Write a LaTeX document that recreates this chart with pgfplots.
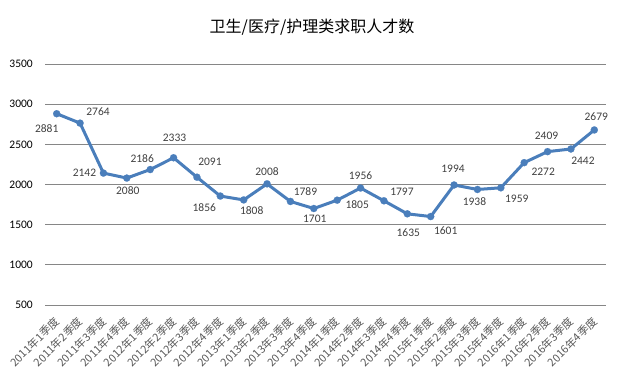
\documentclass[border=0pt]{standalone}
\usepackage{pgfplots}
\pgfplotsset{compat=1.18}
\usepackage{pgfplotstable}
\usepackage{fontspec}
\setmainfont{Carlito}
\newfontfamily\cjk{Noto Sans CJK SC}
\definecolor{lineblue}{HTML}{4A7EBB}
\definecolor{gridgray}{HTML}{868686}
\definecolor{labgray}{HTML}{404040}
\definecolor{xgray}{HTML}{595959}

\pgfplotstableread{
x y dx dy
0 2881 -10 -15
1 2764 18 11
2 2142 -19 0
3 2080 1 -13
4 2186 -8 11
5 2333 1 20
6 2091 13 15
7 1856 -16 -12
8 1808 8 -11
9 2008 0 12
10 1789 15 10
11 1701 1 -10
12 1805 20 -4
13 1956 0 12
14 1797 18 9
15 1635 1 -19
16 1601 15 -14
17 1994 -1 16
18 1938 -3 -12
19 1959 16 -11
20 2272 19 -9
21 2409 -1 16
22 2442 12 -12
23 2679 2 13
}\datatable

\begin{document}
\begin{tikzpicture}[x=1pt,y=1pt]
\useasboundingbox (0,0) rectangle (618,379);
\node[font=\cjk\fontsize{16}{18}\selectfont, text=black] at (312,352) {卫生/医疗/护理类求职人才数};
\begin{axis}[
  at={(45pt,74pt)}, anchor=south west,
  scale only axis, width=561pt, height=241pt,
  xmin=-0.5, xmax=23.5, ymin=500, ymax=3500,
  ytick={500,1000,...,3500},
  xtick={0,...,23},
  xticklabels={2011年1季度,2011年2季度,2011年3季度,2011年4季度,2012年1季度,2012年2季度,2012年3季度,2012年4季度,2013年1季度,2013年2季度,2013年3季度,2013年4季度,2014年1季度,2014年2季度,2014年3季度,2014年4季度,2015年1季度,2015年2季度,2015年3季度,2015年4季度,2016年1季度,2016年2季度,2016年3季度,2016年4季度},
  axis line style={draw=none},
  major tick length=0pt,
  ymajorgrids, grid style={gridgray, line width=0.9pt},
  yticklabel style={font=\fontsize{11.5}{13}\selectfont, anchor=east, inner sep=0pt, xshift=-12pt},
  xticklabel shift=15pt,
  xticklabel style={font=\cjk\fontsize{11}{13}\selectfont, text=xgray, rotate=45, anchor=east, inner sep=0pt, xshift=1pt},
  /pgf/number format/assume math mode=true,
  /pgf/number format/1000 sep={},
  clip=false,
]
\addplot[lineblue, line width=3pt, mark=*, mark size=3.6pt,
  mark options={solid, fill=lineblue, draw=lineblue, line width=0.1pt},
  nodes near coords,
  point meta=explicit,
  visualization depends on={\thisrow{dx} \as \dx},
  visualization depends on={\thisrow{dy} \as \dy},
  nodes near coords style={anchor=center, inner sep=0pt, xshift=\dx pt, yshift=\dy pt, font=\fontsize{11.5}{13}\selectfont, text=labgray},
] table[x=x, y=y, meta=y] {\datatable};
\end{axis}
\end{tikzpicture}
\end{document}
